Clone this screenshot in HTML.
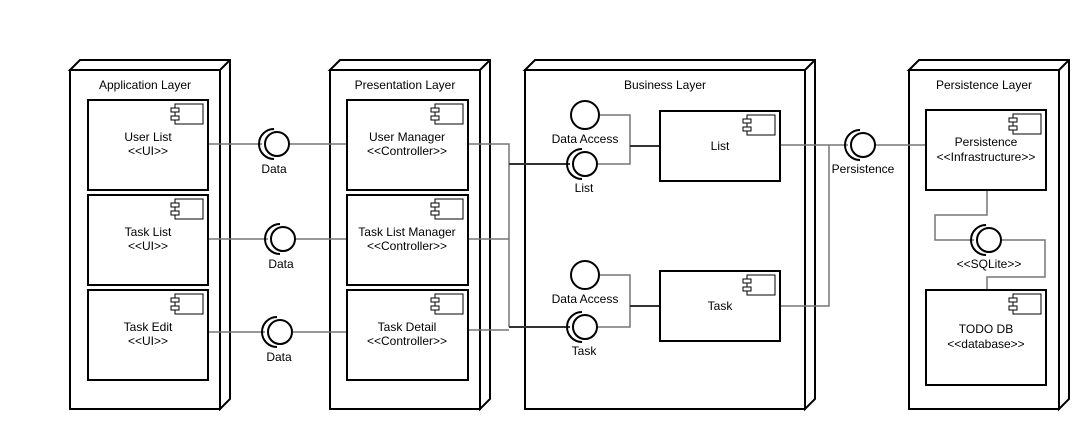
<!DOCTYPE html>
<html><head><meta charset="utf-8"><style>
html,body{margin:0;padding:0;background:#fff;}
svg{display:block;}
text{font-family:"Liberation Sans",Arial,sans-serif;font-size:12px;fill:#000;text-anchor:middle;}
</style></head><body>
<svg width="1086" height="430" viewBox="0 0 1086 430" xmlns="http://www.w3.org/2000/svg">
<defs>
<g id="icon">
<rect x="0" y="0" width="28" height="20" fill="#fff" stroke="#000" stroke-width="1"/>
<rect x="-4" y="4" width="8" height="4" fill="#fff" stroke="#000" stroke-width="1"/>
<rect x="-4" y="12" width="8" height="4" fill="#fff" stroke="#000" stroke-width="1"/>
</g>
<g id="sock">
<circle cx="0" cy="0" r="12" fill="#fff" stroke="#000" stroke-width="2"/>
<path d="M -3 -15 A 15 15 0 0 0 -3 15" fill="none" stroke="#000" stroke-width="2"/>
</g>
</defs>

<!-- nodes -->
<g fill="#fff" stroke="#000" stroke-width="2">
<path d="M70 70 L80 60 L230 60 L230 399 L220 409 L220 70 Z M220 70 L230 60"/>
<rect x="70" y="70" width="150" height="339"/>
<path d="M330 70 L340 60 L490 60 L490 399 L480 409 L480 70 Z M480 70 L490 60"/>
<rect x="330" y="70" width="150" height="339"/>
<path d="M525 70 L535 60 L815 60 L815 399 L805 409 L805 70 Z M805 70 L815 60"/>
<rect x="525" y="70" width="280" height="339"/>
<path d="M909 70 L919 60 L1069 60 L1069 399 L1059 409 L1059 70 Z M1059 70 L1069 60"/>
<rect x="909" y="70" width="150" height="339"/>
</g>

<text x="145" y="89">Application Layer</text>
<text x="405" y="89">Presentation Layer</text>
<text x="665" y="89">Business Layer</text>
<text x="984" y="89">Persistence Layer</text>

<!-- connectors -->
<g fill="none" stroke="#777" stroke-width="1.5">
<path d="M208 144 L262 144 M289 144 L347 144"/>
<path d="M208 239 L268 239 M295 239 L347 239"/>
<path d="M208 332 L265 332 M292 332 L347 332"/>
<path d="M468 144 L509 144 L509 327 M468 239 L509 239 M468 330 L509 330"/>
<path d="M509 164 L570 164 M509 327 L570 327"/>
<path d="M600 115 L630 115 L630 164 L597 164 M630 146 L660 146"/>
<path d="M600 275 L630 275 L630 327 L597 327 M630 306 L660 306"/>
<path d="M780 145 L848 145 M875 145 L926 145 M829 145 L829 306 L780 306"/>
<path d="M987 190 L987 215 L935 215 L935 240 L974 240 M1001 240 L1045 240 L1045 277 L987 277 L987 290"/>
</g>
<g stroke="#333" stroke-width="2" fill="none">
<path d="M509 164 L570 164 M509 327 L570 327 M630 146 L660 146 M630 306 L660 306"/>
</g>

<!-- components -->
<g fill="#fff" stroke="#000" stroke-width="2">
<rect x="88" y="100" width="120" height="90"/>
<rect x="88" y="195" width="120" height="90"/>
<rect x="88" y="290" width="120" height="90"/>
<rect x="347" y="100" width="121" height="90"/>
<rect x="347" y="195" width="121" height="90"/>
<rect x="347" y="290" width="121" height="90"/>
<rect x="660" y="111" width="120" height="70"/>
<rect x="660" y="271" width="120" height="70"/>
<rect x="926" y="110" width="120" height="80"/>
<rect x="926" y="290" width="120" height="95"/>
</g>
<use href="#icon" x="175" y="104"/>
<use href="#icon" x="175" y="199"/>
<use href="#icon" x="175" y="294"/>
<use href="#icon" x="435" y="104"/>
<use href="#icon" x="435" y="199"/>
<use href="#icon" x="435" y="294"/>
<use href="#icon" x="747" y="115"/>
<use href="#icon" x="747" y="275"/>
<use href="#icon" x="1013" y="114"/>
<use href="#icon" x="1013" y="294"/>

<text x="148" y="141">User List</text><text x="148" y="155">&lt;&lt;UI&gt;&gt;</text>
<text x="148" y="236">Task List</text><text x="148" y="250">&lt;&lt;UI&gt;&gt;</text>
<text x="148" y="331">Task Edit</text><text x="148" y="345">&lt;&lt;UI&gt;&gt;</text>
<text x="407" y="141">User Manager</text><text x="407" y="155">&lt;&lt;Controller&gt;&gt;</text>
<text x="407" y="236">Task List Manager</text><text x="407" y="250">&lt;&lt;Controller&gt;&gt;</text>
<text x="407" y="331">Task Detail</text><text x="407" y="345">&lt;&lt;Controller&gt;&gt;</text>
<text x="720" y="150">List</text>
<text x="720" y="310">Task</text>
<text x="986" y="146">Persistence</text><text x="986" y="161">&lt;&lt;Infrastructure&gt;&gt;</text>
<text x="986" y="333">TODO DB</text><text x="986" y="348">&lt;&lt;database&gt;&gt;</text>

<!-- interfaces -->
<use href="#sock" x="277" y="144"/>
<use href="#sock" x="283" y="239"/>
<use href="#sock" x="280" y="332"/>
<use href="#sock" x="585" y="164"/>
<use href="#sock" x="585" y="327"/>
<use href="#sock" x="863" y="145"/>
<use href="#sock" x="989" y="240"/>
<circle cx="585" cy="115" r="14" fill="#fff" stroke="#000" stroke-width="2"/>
<circle cx="585" cy="275" r="14" fill="#fff" stroke="#000" stroke-width="2"/>

<text x="274" y="173">Data</text>
<text x="281" y="268">Data</text>
<text x="279" y="361">Data</text>
<text x="585" y="143">Data Access</text>
<text x="584" y="192">List</text>
<text x="585" y="303">Data Access</text>
<text x="584" y="355">Task</text>
<text x="863" y="173">Persistence</text>
<text x="989" y="268">&lt;&lt;SQLite&gt;&gt;</text>
</svg>
</body></html>
